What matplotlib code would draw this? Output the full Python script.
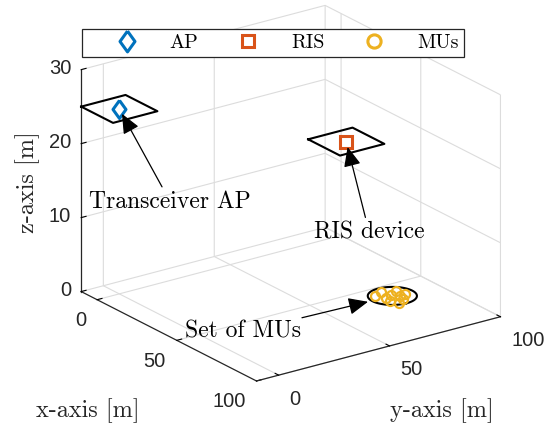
import numpy as np
import matplotlib.pyplot as plt
from matplotlib.lines import Line2D
from mpl_toolkits.mplot3d import proj3d

# node positions [m]
ap_pos = (0, 0, 25)
ris_pos = (45, 70, 20)
mu_center = (60, 80, 0)
mu_x = [54, 57, 61, 65, 56, 60, 64, 59, 62, 67]
mu_y = [79, 84, 85, 81, 75, 77, 76, 80, 82, 78]
mu_z = [0] * len(mu_x)

plane_half = 10     # half side of the AP / RIS plane
mu_radius = 9       # radius of the MU area

x_lim = (-10, 100)
y_lim = (-10, 100)
z_lim = (0, 30)
x_ticks = [0, 50, 100]
y_ticks = [0, 50, 100]
z_ticks = [0, 10, 20, 30]

BLUE = "#0072BD"
ORANGE = "#D95319"
YELLOW = "#EDB120"
AXC = "#262626"
SERIF = "cmr10"
SANS = "Liberation Sans"

plt.rcParams["grid.color"] = "#dcdcdc"
plt.rcParams["grid.linewidth"] = 0.8
plt.rcParams["axes.formatter.use_mathtext"] = True

# diamond a bit narrower than it is tall
DIAMOND = [(0, 1), (0.72, 0), (0, -1), (-0.72, 0), (0, 1)]

fig = plt.figure(figsize=(5.48, 4.30), dpi=100, facecolor="white")
ax = fig.add_axes([11 / 548, 16 / 430, 1.0, 1.0], projection="3d", proj_type="ortho")
ax.view_init(elev=21.5, azim=-35.7)
ax.set_box_aspect((1, 1, 0.794), zoom=1.1)


def square(c, h):
    xs = [c[0] - h, c[0] + h, c[0] + h, c[0] - h, c[0] - h]
    ys = [c[1] - h, c[1] - h, c[1] + h, c[1] + h, c[1] - h]
    return xs, ys, [c[2]] * 5


for c in (ap_pos, ris_pos):
    sx, sy, sz = square(c, plane_half)
    ax.plot(sx, sy, sz, color="k", lw=1.5, zorder=2)

t = np.linspace(0, 2 * np.pi, 100)
ax.plot(mu_center[0] + mu_radius * np.cos(t), mu_center[1] + mu_radius * np.sin(t),
        np.zeros_like(t), color="k", lw=1.5)

ax.plot([ap_pos[0]], [ap_pos[1]], [ap_pos[2]], ls="none", marker=DIAMOND, ms=13,
        mfc="none", mec=BLUE, mew=2.2)
ax.plot([ris_pos[0]], [ris_pos[1]], [ris_pos[2]], ls="none", marker="s", ms=8,
        mfc="none", mec=ORANGE, mew=2.2)
ax.plot(mu_x, mu_y, mu_z, ls="none", marker="o", ms=6.5, mfc="none", mec=YELLOW, mew=1.6)

ax.set_xlim(*x_lim)
ax.set_ylim(*y_lim)
ax.set_zlim(*z_lim)
ax.set_xticks(x_ticks)
ax.set_yticks(y_ticks)
ax.set_zticks(z_ticks)
ax.set_xticklabels([""] * len(x_ticks))
ax.set_yticklabels([""] * len(y_ticks))
ax.set_zticklabels([""] * len(z_ticks))

for axis in (ax.xaxis, ax.yaxis, ax.zaxis):
    axis.set_pane_color((1, 1, 1, 0))
    axis.pane.set_edgecolor("#dcdcdc")
    axis.line.set_color(AXC)
    axis.line.set_linewidth(0.9)
    axis._axinfo["tick"]["inward_factor"] = 0.0
    axis._axinfo["tick"]["outward_factor"] = 0.25
    axis._axinfo["tick"]["color"] = AXC
ax.zaxis.set_ticks_position("lower")

M = ax.get_proj()


def to2d(p):
    x2, y2, _ = proj3d.proj_transform(p[0], p[1], p[2], M)
    return x2, y2


# tick labels placed along the drawn axis edges
tick_style = dict(textcoords="offset pixels", family=SANS, fontsize=14.5, color=AXC,
                  va="center", annotation_clip=False)
for v in x_ticks:
    ax.annotate(str(v), xy=to2d((v, y_lim[0], z_lim[0])), xytext=(-11, -21),
                ha="right", **tick_style)
for v in y_ticks:
    ax.annotate(str(v), xy=to2d((x_lim[1], v, z_lim[0])), xytext=(11, -24),
                ha="left", **tick_style)
for v in z_ticks:
    ax.annotate(str(v), xy=to2d((x_lim[0], y_lim[0], v)), xytext=(-10, 1),
                ha="right", **tick_style)

# axis labels
fig.text(88 / 548, 1 - 411 / 430, "x-axis [m]", family=SERIF, fontsize=17.5,
         ha="center", va="center", color=AXC)
fig.text(442 / 548, 1 - 411 / 430, "y-axis [m]", family=SERIF, fontsize=17.5,
         ha="center", va="center", color=AXC)
fig.text(28 / 548, 1 - 182 / 430, "z-axis [m]", family=SERIF, fontsize=17.5,
         ha="center", va="center", rotation=90, color=AXC)

# callouts
arrow = dict(arrowstyle="-|>,head_length=0.8,head_width=0.35", mutation_scale=15,
             color="k", lw=0.9, shrinkA=1)
ax.annotate("Transceiver AP", xy=to2d(ap_pos), xytext=(51, -93),
            textcoords="offset pixels", ha="center", va="center", family=SERIF,
            fontsize=17, arrowprops=dict(arrow, shrinkB=4))
ax.annotate("RIS device", xy=to2d(ris_pos), xytext=(23, -91),
            textcoords="offset pixels", ha="center", va="center", family=SERIF,
            fontsize=17, arrowprops=dict(arrow, shrinkB=4))
ax.annotate("Set of MUs", xy=to2d(mu_center), xytext=(-91, -36),
            textcoords="offset pixels", ha="right", va="center", family=SERIF,
            fontsize=17, arrowprops=dict(arrow, shrinkB=18))

handles = [
    Line2D([], [], ls="none", marker=DIAMOND, ms=15, mfc="none", mec=BLUE, mew=2.2),
    Line2D([], [], ls="none", marker="s", ms=8, mfc="none", mec=ORANGE, mew=2.2),
    Line2D([], [], ls="none", marker="o", ms=9.5, mfc="none", mec=YELLOW, mew=2.2),
]
leg = fig.legend(handles, ["AP", "RIS", "MUs"], ncol=3, loc="center",
                 bbox_to_anchor=(273 / 548, 1 - 43 / 430), frameon=True, fancybox=False,
                 edgecolor=AXC, framealpha=1, handlelength=3.9, handletextpad=0.2,
                 columnspacing=0.5, borderpad=0.25, prop=dict(family=SERIF, size=14.5))
leg.get_frame().set_linewidth(0.9)

fig.savefig("out.png", dpi=100)
